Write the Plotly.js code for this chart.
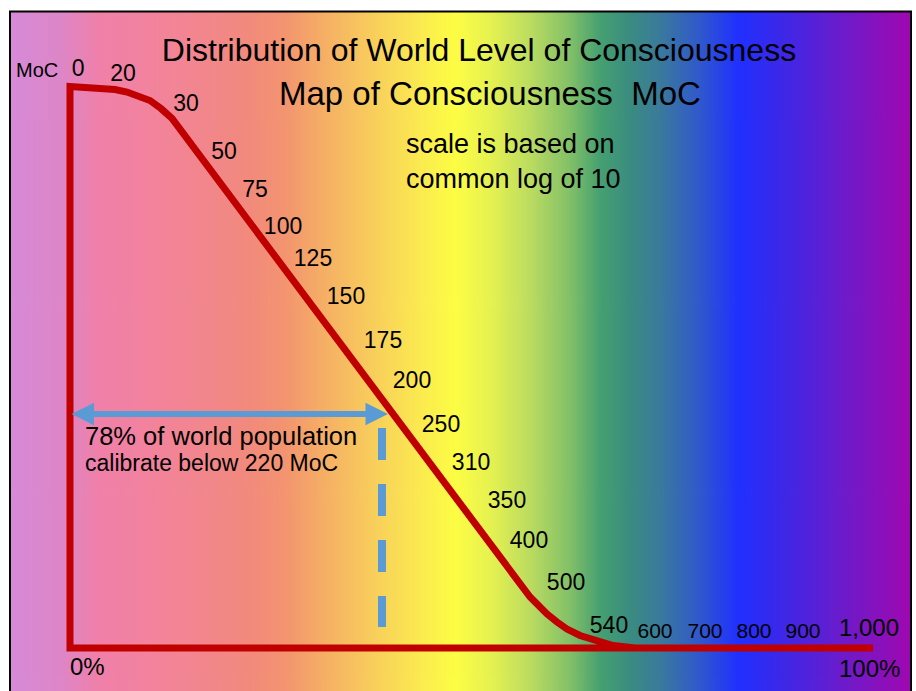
<!DOCTYPE html>
<html>
<head>
<meta charset="utf-8">
<script src="https://cdn.plot.ly/plotly-3.0.1.min.js"></script>
<style>
  html, body { margin: 0; padding: 0; background: #ffffff; }
  #chart { width: 916px; height: 691px; }
</style>
</head>
<body>
<div id="chart"></div>
<script>
// ---- Data ----
// Red distribution curve (x: % of world population, y: share scale 0..100)
const curveX = [100, 0, 0, 1.87, 3.74, 5.60, 7.10, 8.72, 9.96, 11.33, 12.70,
                57.29, 58.28, 59.40, 60.65, 61.89, 63.51, 65.13, 67.62, 70.36];
const curveY = [0, 0, 100, 99.86, 99.73, 99.47, 99.02, 98.31, 97.51, 96.08, 94.31,
                9.08, 7.48, 6.06, 4.63, 3.38, 2.23, 1.42, 0.45, 0];

// MoC level labels placed along the curve
const mocLabels = ['0', '20', '30', '50', '75', '100', '125', '150', '175', '200', '250', '310',
                   '350', '400', '500', '540', '600', '700', '800', '900', '1,000'];
const mocX = [1.00, 6.60, 14.45, 19.18, 23.04, 26.53, 30.26, 34.37, 38.98, 42.59, 46.20, 49.94,
              54.42, 57.16, 61.77, 67.12, 72.85, 79.08, 85.18, 91.28, 99.50];
const mocY = [102.94, 102.05, 96.71, 88.16, 81.39, 74.80, 69.10, 62.33, 54.50, 47.37, 39.54, 32.77,
              26.00, 18.88, 11.40, 3.74, 2.67, 2.67, 2.67, 2.67, 3.21];

// 78% threshold marker (arrow and dashed drop line)
const arrowX = [0, 39.6];
const arrowY = [41.67, 41.67];
const dropX = [38.85, 38.85];
const dropY = [39.18, 3.74];

// Background rainbow stops (fraction across frame, colour)
const rainbowPos = [0, 0.0555, 0.0999, 0.1443, 0.2109, 0.2664, 0.305, 0.344, 0.3996, 0.455, 0.494,
                    0.5327, 0.577, 0.6215, 0.6548, 0.6881, 0.7214, 0.7658, 0.808, 0.8657, 0.9212, 1];
const rainbowCol = ['#d68ad8', '#dd86c8', '#f080a8', '#f282a0', '#f2868e', '#f28a7c', '#f39470',
                    '#f5ac66', '#f8cc5c', '#fbea50', '#fdfd44', '#e6f250', '#bcdc60', '#82c068',
                    '#46a070', '#3a8c80', '#3a7a9c', '#3058cc', '#2030ff', '#4226e4', '#6a1ccc', '#a008b0'];

// ---- Build ----
function gradientURL() {
  const c = document.createElement('canvas');
  c.width = 901; c.height = 4;
  const ctx = c.getContext('2d');
  const g = ctx.createLinearGradient(0, 0, 901, 0);
  rainbowPos.forEach((p, i) => g.addColorStop(p, rainbowCol[i]));
  ctx.fillStyle = g;
  ctx.fillRect(0, 0, 901, 4);
  return c.toDataURL('image/png');
}

const FONT = 'Liberation Sans, Arial, Helvetica, sans-serif';
const RED = '#c00000';
const BLUE = '#5b9bd5';

const labelSizes = mocLabels.map(l => l === '1,000' ? 24 : (['600','700','800','900'].includes(l) ? 21 : 23));

const traces = [
  {
    type: 'scatter', mode: 'lines', x: dropX, y: dropY,
    line: { color: BLUE, width: 8, dash: '32px,24px' }, hoverinfo: 'skip'
  },
  {
    type: 'scatter', mode: 'lines', x: curveX, y: curveY,
    line: { color: RED, width: 7 }, hoverinfo: 'skip'
  },
  {
    type: 'scatter', mode: 'text', x: mocX, y: mocY, text: mocLabels,
    textposition: 'middle center',
    textfont: { family: FONT, size: labelSizes, color: '#000000' }, hoverinfo: 'skip'
  }
];

const layout = {
  width: 916, height: 691,
  margin: { l: 0, r: 0, t: 0, b: 0, pad: 0 },
  paper_bgcolor: '#ffffff',
  plot_bgcolor: 'rgba(0,0,0,0)',
  showlegend: false,
  xaxis: { range: [-8.717, 105.35], visible: false, fixedrange: true },
  yaxis: { range: [-7.658, 115.41], visible: false, fixedrange: true },
  title: {
    text: 'Distribution of World Level of Consciousness',
    font: { family: FONT, size: 32, color: '#000000' },
    x: 0.5229, xanchor: 'center', xref: 'paper',
    y: 0.9276, yanchor: 'middle', yref: 'container'
  },
  images: [{
    source: gradientURL(), xref: 'paper', yref: 'paper',
    x: 10 / 916, y: 1 - 12 / 691, sizex: 901 / 916, sizey: 1.1,
    xanchor: 'left', yanchor: 'top', sizing: 'stretch', layer: 'below'
  }],
  shapes: [{
    type: 'rect', xref: 'paper', yref: 'paper',
    x0: 10 / 916, x1: 911 / 916, y0: -0.05, y1: 1 - 11.5 / 691,
    line: { color: '#000000', width: 2 }, fillcolor: 'rgba(0,0,0,0)', layer: 'above'
  }],
  annotations: [
    { text: 'Map of Consciousness\u00a0\u00a0MoC', xref: 'paper', yref: 'paper', x: 0.5349, y: 0.864,
      xanchor: 'center', yanchor: 'middle', showarrow: false, font: { family: FONT, size: 33, color: '#000' } },
    { text: 'MoC', xref: 'paper', yref: 'paper', x: 14 / 916, y: 1 - 70 / 691,
      xanchor: 'left', yanchor: 'middle', showarrow: false, font: { family: FONT, size: 20, color: '#000' } },
    { text: 'scale is based on<br>common log of 10', xref: 'paper', yref: 'paper', x: 404 / 916, y: 1 - 161 / 691,
      xanchor: 'left', yanchor: 'middle', align: 'left', showarrow: false, font: { family: FONT, size: 27, color: '#000' } },
    { text: '78% of world population', xref: 'paper', yref: 'paper', x: 83 / 916, y: 1 - 436 / 691,
      xanchor: 'left', yanchor: 'middle', showarrow: false, font: { family: FONT, size: 25.5, color: '#000' } },
    { text: 'calibrate below 220 MoC', xref: 'paper', yref: 'paper', x: 83 / 916, y: 1 - 463 / 691,
      xanchor: 'left', yanchor: 'middle', showarrow: false, font: { family: FONT, size: 23, color: '#000' } },
    { text: '0%', xref: 'paper', yref: 'paper', x: 68 / 916, y: 1 - 666 / 691,
      xanchor: 'left', yanchor: 'middle', showarrow: false, font: { family: FONT, size: 24, color: '#000' } },
    { text: '100%', xref: 'paper', yref: 'paper', x: 902 / 916, y: 1 - 668 / 691,
      xanchor: 'right', yanchor: 'middle', showarrow: false, font: { family: FONT, size: 24, color: '#000' } },
    { text: '', xref: 'x', yref: 'y', axref: 'x', ayref: 'y',
      x: arrowX[1], y: arrowY[1], ax: arrowX[0], ay: arrowY[0],
      showarrow: true, arrowside: 'end+start', arrowhead: 2, startarrowhead: 2,
      arrowsize: 0.75, startarrowsize: 0.75, arrowwidth: 6, arrowcolor: BLUE,
      standoff: 0, startstandoff: 0 }
  ]
};

Plotly.newPlot('chart', traces, layout, { staticPlot: true, displayModeBar: false });
</script>
</body>
</html>
